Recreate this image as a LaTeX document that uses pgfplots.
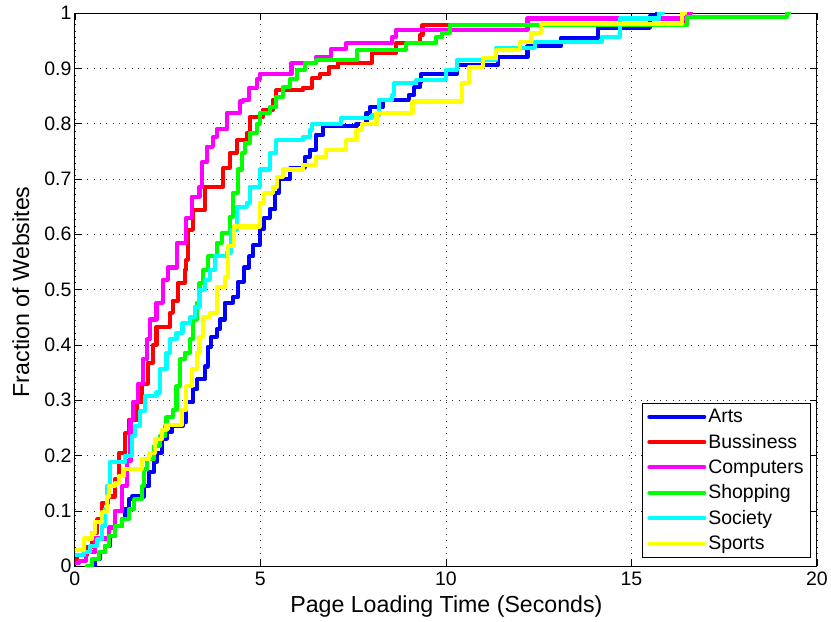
\documentclass[border=0pt]{standalone}
\usepackage{fontspec}
\setmainfont{Liberation Sans}
\usepackage{pgfplots}
\pgfplotsset{compat=1.18}
\definecolor{mblue}{rgb}{0,0,1}
\definecolor{mred}{rgb}{1,0,0}
\definecolor{mmag}{rgb}{1,0,1}
\definecolor{mgreen}{rgb}{0,1,0}
\definecolor{mcyan}{rgb}{0,1,1}
\definecolor{myellow}{rgb}{1,1,0}
\pgfplotsset{cdf/.style={const plot, line width=4.1pt, line join=round, line cap=round, no marks, solid}}
\begin{document}
\begin{tikzpicture}
\begin{axis}[
  scale only axis, width=743pt, height=554pt,
  xmin=0, xmax=20, ymin=0, ymax=1,
  xtick={0,5,10,15,20},
  ytick={0,0.1,0.2,0.3,0.4,0.5,0.6,0.7,0.8,0.9,1},
  /pgf/number format/assume math mode=true,
  tick label style={font=\fontsize{19.5}{22}\selectfont},
  xticklabel style={yshift=-2pt},
  xlabel={Page Loading Time (Seconds)},
  ylabel={Fraction of Websites},
  xlabel style={font=\fontsize{23.2}{27}\selectfont, at={(axis description cs:0.5007,-0.0722)}, anchor=center},
  ylabel style={font=\fontsize{23.2}{27}\selectfont, at={(axis description cs:-0.0727,0.496)}, anchor=center, rotate=0},
  tick align=inside, major tick length=7pt,
  xtick pos=both, ytick pos=both,
  axis line style={line width=0.8pt},
  every tick/.style={black, line width=0.6pt},
  grid=major,
  major grid style={black!80, line width=0.6pt, dash pattern=on 0.8pt off 5.5pt},
  legend cell align=left,
  legend style={at={(0.7645,0.016)}, anchor=south west,
    font=\fontsize{19.5}{22}\selectfont, draw=black,
    inner xsep=5pt, inner ysep=4pt, row sep=6pt},
  legend image code/.code={\path (0pt,0pt) -- (55pt,0pt); \draw[#1, line width=4.1pt, line cap=butt] (2pt,0pt) -- (52pt,0pt);},
]
\addplot[cdf, mblue] coordinates {
(0.4,0) (0.54,0.013) (0.67,0.025) (0.8,0.036) (0.94,0.054) (1.08,0.072) (1.27,0.085) (1.35,0.103) (1.45,0.121) (1.53,0.126) (1.86,0.145) (2.0,0.17) (2.13,0.188) (2.2,0.205) (2.34,0.23) (2.47,0.242) (2.61,0.253) (2.9,0.26) (3.0,0.296) (3.18,0.32) (3.3,0.338) (3.5,0.361) (3.58,0.397) (3.68,0.415) (3.82,0.428) (3.9,0.446) (4.04,0.476) (4.25,0.487) (4.4,0.514) (4.55,0.54) (4.7,0.56) (4.8,0.58) (4.98,0.61) (5.1,0.63) (5.25,0.645) (5.4,0.675) (5.5,0.70) (5.8,0.72) (6.2,0.74) (6.33,0.753) (6.5,0.78) (6.7,0.795) (7.59,0.80) (7.86,0.82) (7.95,0.83) (8.3,0.843) (9.0,0.852) (9.15,0.866) (9.3,0.875) (9.34,0.89) (10.3,0.906) (11.4,0.92) (12.2,0.94) (13.1,0.955) (14.1,0.973) (15.5,0.995) (15.7,1.0) (15.8,1.0)
};
\addlegendentry{Arts}
\addplot[cdf, mred] coordinates {
(0,0.01) (0.05,0.02) (0.32,0.035) (0.46,0.06) (0.6,0.085) (0.73,0.115) (0.9,0.126) (1.08,0.157) (1.2,0.205) (1.35,0.24) (1.45,0.265) (1.67,0.296) (1.8,0.33) (1.96,0.368) (2.1,0.40) (2.2,0.433) (2.56,0.458) (2.64,0.48) (2.77,0.512) (2.96,0.536) (3.0,0.554) (3.04,0.608) (3.18,0.644) (3.5,0.686) (4.0,0.72) (4.17,0.747) (4.36,0.77) (4.63,0.783) (4.71,0.812) (5.06,0.825) (5.33,0.843) (5.43,0.86) (6.14,0.865) (6.4,0.883) (6.6,0.89) (6.86,0.903) (7.1,0.91) (8.0,0.928) (8.66,0.946) (9.3,0.96) (9.37,0.978) (16.4,0.99) (16.5,1.0) (16.6,1.0)
};
\addlegendentry{Bussiness}
\addplot[cdf, mmag] coordinates {
(0,0.005) (0.1,0.01) (0.3,0.025) (0.55,0.05) (0.92,0.07) (1.08,0.10) (1.27,0.145) (1.4,0.19) (1.5,0.265) (1.56,0.296) (1.7,0.33) (1.83,0.374) (1.95,0.41) (2.02,0.446) (2.2,0.476) (2.37,0.518) (2.5,0.54) (2.75,0.585) (3.0,0.63) (3.15,0.668) (3.36,0.686) (3.42,0.73) (3.55,0.758) (3.72,0.776) (3.82,0.79) (4.1,0.82) (4.44,0.84) (4.52,0.843) (4.7,0.865) (4.9,0.88) (4.98,0.89) (5.84,0.91) (6.5,0.92) (6.9,0.935) (7.3,0.945) (8.55,0.957) (8.66,0.97) (12.2,0.99) (16.5,1.0) (16.6,1.0)
};
\addlegendentry{Computers}
\addplot[cdf, mgreen] coordinates {
(0.32,0) (0.46,0.013) (0.65,0.025) (0.8,0.036) (0.92,0.054) (1.08,0.072) (1.27,0.085) (1.45,0.103) (1.6,0.121) (1.8,0.145) (1.86,0.175) (1.94,0.193) (2.13,0.217) (2.29,0.235) (2.42,0.253) (2.47,0.269) (2.64,0.283) (2.74,0.325) (2.83,0.374) (2.96,0.386) (3.1,0.41) (3.18,0.446) (3.28,0.476) (3.36,0.512) (3.45,0.536) (3.6,0.56) (3.82,0.585) (3.96,0.603) (4.17,0.632) (4.25,0.675) (4.39,0.717) (4.5,0.747) (4.58,0.765) (4.71,0.783) (4.9,0.80) (5.0,0.82) (5.25,0.83) (5.43,0.848) (5.6,0.866) (5.79,0.88) (5.98,0.897) (6.2,0.91) (6.5,0.915) (7.6,0.933) (8.93,0.945) (9.74,0.957) (9.9,0.964) (10.1,0.978) (16.5,0.993) (19.2,1.0) (19.25,1.0)
};
\addlegendentry{Shopping}
\addplot[cdf, mcyan] coordinates {
(0,0.02) (0.24,0.025) (0.4,0.036) (0.6,0.049) (0.73,0.072) (0.81,0.103) (0.86,0.145) (0.94,0.188) (1.35,0.2) (1.53,0.235) (1.62,0.253) (1.75,0.28) (1.88,0.307) (2.2,0.314) (2.29,0.356) (2.47,0.386) (2.56,0.41) (2.74,0.422) (2.9,0.44) (3.1,0.45) (3.23,0.469) (3.36,0.5) (3.5,0.518) (3.63,0.536) (3.77,0.56) (4.09,0.567) (4.22,0.608) (4.36,0.65) (4.63,0.657) (4.71,0.686) (4.98,0.717) (5.25,0.747) (5.43,0.77) (6.14,0.776) (6.33,0.789) (6.4,0.80) (7.18,0.81) (8.0,0.815) (8.2,0.843) (8.56,0.852) (8.6,0.873) (9.2,0.879) (10.0,0.897) (10.3,0.915) (11.36,0.937) (12.4,0.948) (14.2,0.957) (14.7,0.99) (15.75,1.0) (15.85,1.0)
};
\addlegendentry{Society}
\addplot[cdf, myellow] coordinates {
(0,0.03) (0.24,0.05) (0.46,0.06) (0.54,0.08) (0.73,0.098) (0.86,0.126) (0.92,0.145) (1.08,0.15) (1.18,0.163) (1.32,0.175) (1.8,0.193) (2.0,0.205) (2.16,0.23) (2.34,0.247) (2.47,0.256) (2.88,0.283) (3.0,0.325) (3.15,0.356) (3.28,0.386) (3.36,0.415) (3.45,0.45) (3.63,0.458) (3.82,0.505) (4.04,0.523) (4.12,0.578) (4.3,0.614) (4.98,0.657) (5.1,0.675) (5.33,0.686) (5.46,0.704) (5.6,0.717) (6.14,0.726) (6.5,0.74) (6.78,0.753) (7.32,0.77) (7.59,0.789) (7.75,0.80) (8.13,0.82) (9.1,0.84) (10.44,0.873) (10.63,0.903) (11.0,0.918) (11.36,0.933) (12.0,0.948) (12.3,0.964) (12.57,0.98) (16.37,1.0) (16.45,1.0)
};
\addlegendentry{Sports}
\end{axis}
\path[use as bounding box] ([shift={(-75pt,-55pt)}]current axis.south west) rectangle ([shift={(13pt,13pt)}]current axis.north east);
\end{tikzpicture}
\end{document}
